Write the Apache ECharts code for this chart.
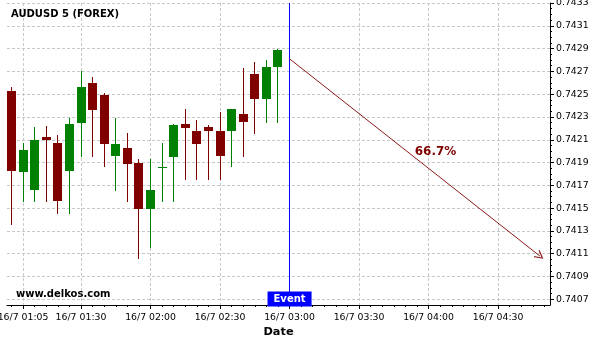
<!DOCTYPE html>
<html>
<head>
<meta charset="utf-8">
<script src="https://cdn.jsdelivr.net/npm/echarts@6/dist/echarts.min.js"></script>
<style>html,body{margin:0;padding:0;background:#fff}#c{width:600px;height:340px}</style>
</head>
<body>
<div id="c"></div>
<script>
// ---- data ----
const times  = ['01:00','01:05','01:10','01:15','01:20','01:25','01:30','01:35','01:40','01:45','01:50','01:55',
                '02:00','02:05','02:10','02:15','02:20','02:25','02:30','02:35','02:40','02:45','02:50','02:55'];
const opens  = [0.74253,0.74182,0.74166,0.74212,0.74207,0.74183,0.74225,0.74260,0.74249,0.74196,0.74203,0.74190,
                0.74149,0.74186,0.74195,0.74224,0.74218,0.74221,0.74218,0.74218,0.74233,0.74268,0.74246,0.74274];
const closes = [0.74183,0.74201,0.74210,0.74210,0.74156,0.74224,0.74256,0.74236,0.74206,0.74206,0.74189,0.74149,
                0.74166,0.74186,0.74223,0.74220,0.74206,0.74218,0.74196,0.74237,0.74226,0.74246,0.74274,0.74289];
const lows   = [0.74135,0.74155,0.74155,0.74155,0.74145,0.74145,0.74195,0.74195,0.74186,0.74165,0.74155,0.74105,
                0.74115,0.74155,0.74155,0.74175,0.74175,0.74175,0.74175,0.74186,0.74195,0.74215,0.74225,0.74225];
const highs  = [0.74256,0.74207,0.74221,0.74222,0.74214,0.74229,0.74270,0.74265,0.74251,0.74229,0.74216,0.74193,
                0.74193,0.74207,0.74224,0.74237,0.74227,0.74223,0.74234,0.74237,0.74273,0.74278,0.74280,0.74290];

const xTickTimes  = ['01:05','01:30','02:00','02:30','03:00','03:30','04:00','04:30'];
const xTickLabels = ['16/7 01:05','16/7 01:30','16/7 02:00','16/7 02:30','16/7 03:00','16/7 03:30','16/7 04:00','16/7 04:30'];
const yTicks = [0.7407,0.7409,0.7411,0.7413,0.7415,0.7417,0.7419,0.7421,0.7423,0.7425,0.7427,0.7429,0.7431,0.7433];

const eventTime  = '03:00';
const arrowFrom  = ['03:00', 0.74281];
const arrowTo    = ['04:48', 0.74108];
const probText   = '66.7%';
const probPos    = ['04:03', 0.74199];

// ---- helpers ----
const toMin = s => { const p = s.split(':').map(Number); return p[0] * 60 + p[1]; };
const xMin = 58.06, xMax = 292.4;
const yMin = 0.74065, yMax = 0.7433;

// direction: 1 = up (green), 0 = down (red); ties follow the previous close
const candleData = times.map((t, i) => {
  const o = opens[i], c = closes[i];
  const up = c > o || (c === o && (i === 0 || c >= closes[i - 1])) ? 1 : 0;
  return [toMin(t), o, c, lows[i], highs[i], up];
});
const xMajor = xTickTimes.map(toMin);
const xMinor = [];
for (let m = 60; m <= 290; m += 5) if (xMajor.indexOf(m) < 0) xMinor.push(m);
const yMinor = [];
for (let i = 0; i < yTicks.length - 1; i++) for (let k = 1; k < 4; k++) yMinor.push(+(yTicks[i] + k * 0.00005).toFixed(5));

const FONT = 'DejaVu Sans';
const grid = '#c8c8c8';
const UP = '#008000', DOWN = '#800000';

function renderCandle(params, api) {
  const x = api.value(0);
  const pO = api.coord([x, api.value(1)]);
  const pC = api.coord([x, api.value(2)]);
  const pL = api.coord([x, api.value(3)]);
  const pH = api.coord([x, api.value(4)]);
  const col = api.value(5) ? UP : DOWN;
  const cx = Math.floor(pO[0]) + 0.5;
  const top = Math.round(Math.min(pO[1], pC[1]));
  let h = Math.round(Math.max(pO[1], pC[1])) - top;
  if (h < 1) h = 1;
  return {
    type: 'group',
    children: [
      {type: 'line', shape: {x1: cx, y1: Math.round(pH[1]), x2: cx, y2: Math.round(pL[1])},
       style: {stroke: col, lineWidth: 1}},
      {type: 'rect', shape: {x: cx - 4.5, y: top, width: 9, height: h},
       style: {fill: col}}
    ]
  };
}

const chart = echarts.init(document.getElementById('c'), null, {renderer: 'canvas'});
chart.setOption({
  animation: false,
  backgroundColor: '#fff',
  title: [
    {text: 'AUDUSD 5 (FOREX)', left: 11, top: 9, padding: 0,
     textStyle: {fontFamily: FONT, fontSize: 10, fontWeight: 'bold', color: '#000'}},
    {text: 'www.delkos.com', left: 16, top: 289, padding: 0,
     textStyle: {fontFamily: FONT, fontSize: 10, fontWeight: 'bold', color: '#000'}}
  ],
  grid: {left: 7, right: 50, top: 3, bottom: 35, containLabel: false, outerBoundsMode: 'none'},
  xAxis: [
    {type: 'value', min: xMin, max: xMax, position: 'bottom',
     name: 'Date', nameLocation: 'middle', nameGap: 21,
     nameTextStyle: {fontFamily: FONT, fontSize: 11.33, fontWeight: 'bold', color: '#000'},
     axisLine: {show: true, lineStyle: {color: '#000', width: 1}},
     axisTick: {show: true, customValues: xMajor, length: 4, lineStyle: {color: '#000'}},
     axisLabel: {show: true, customValues: xMajor, margin: 8, fontFamily: FONT, fontSize: 9.33, color: '#000',
       formatter: v => { const i = xMajor.indexOf(Math.round(v)); return i >= 0 ? xTickLabels[i] : ''; }},
     splitLine: {show: true, lineStyle: {color: grid, type: [3, 2], width: 1}}
    },
    {type: 'value', min: xMin, max: xMax, position: 'bottom',
     axisLine: {show: false},
     axisTick: {show: true, customValues: xMinor, length: 2, lineStyle: {color: '#000'}},
     axisLabel: {show: false},
     splitLine: {show: false}
    }
  ],
  yAxis: [
    {type: 'value', min: yMin, max: yMax, position: 'right',
     axisLine: {show: true, lineStyle: {color: '#000', width: 1}},
     axisTick: {show: true, customValues: yTicks, length: 4, lineStyle: {color: '#000'}},
     axisLabel: {show: true, customValues: yTicks, margin: 6, fontFamily: FONT, fontSize: 9.33, color: '#000',
       formatter: v => v.toFixed(4)},
     splitLine: {show: true, lineStyle: {color: grid, type: [3, 2], width: 1}}
    },
    {type: 'value', min: yMin, max: yMax, position: 'right',
     axisLine: {show: false},
     axisTick: {show: true, customValues: yMinor, length: 2, lineStyle: {color: '#000'}},
     axisLabel: {show: false},
     splitLine: {show: false}
    }
  ],
  series: [
    {
      type: 'custom', xAxisIndex: 0, yAxisIndex: 0,
      data: candleData, encode: {x: 0, y: [1, 2, 3, 4]},
      renderItem: renderCandle,
      clip: false, silent: true,
      markLine: {
        silent: true, animation: false, symbol: ['none', 'none'],
        label: {show: false},
        data: [
          {xAxis: toMin(eventTime), lineStyle: {color: '#0000ff', width: 1, type: 'solid'}},
          [
            {coord: [toMin(arrowFrom[0]), arrowFrom[1]], symbol: 'none',
             lineStyle: {color: '#8b1a1a', width: 1, type: 'solid'}},
            {coord: [toMin(arrowTo[0]), arrowTo[1]],
             symbol: 'path://M5,0 L10,9 L9,10 L5,2.5 L1,10 L0,9 Z', symbolSize: [9, 9]}
          ]
        ],
        itemStyle: {color: '#8b1a1a'}
      },
      markPoint: {
        silent: true, animation: false,
        data: [
          {coord: [toMin(probPos[0]), probPos[1]], symbol: 'circle', symbolSize: 0,
           label: {show: true, position: 'inside', formatter: probText,
                   fontFamily: FONT, fontSize: 12, fontWeight: 'bold', color: '#800000'}},
          {coord: [toMin(eventTime), yMin], symbol: 'circle', symbolSize: 0,
           label: {show: true, position: 'inside', formatter: 'Event', offset: [0, -6],
                   fontFamily: FONT, fontSize: 10, fontWeight: 'bold', color: '#fff',
                   backgroundColor: '#0000ff', padding: [2, 6, 2, 6], lineHeight: 11}}
        ]
      }
    }
  ]
});
</script>
</body>
</html>
